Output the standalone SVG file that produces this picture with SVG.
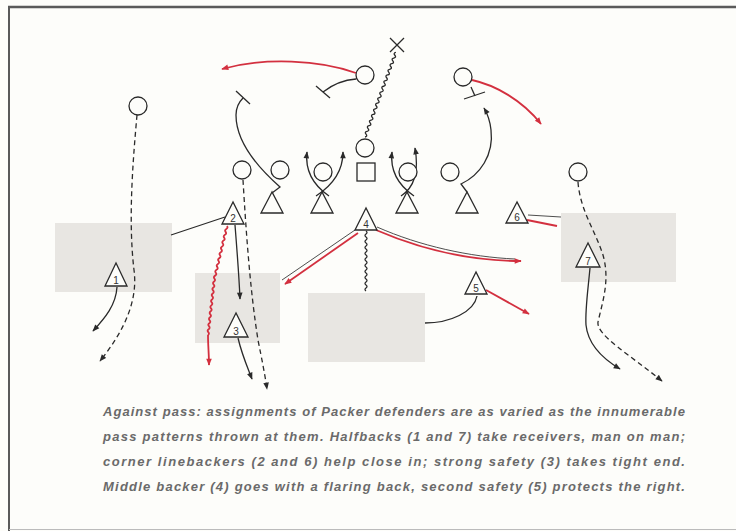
<svg xmlns="http://www.w3.org/2000/svg" width="736" height="531" viewBox="0 0 736 531">
<defs>
<marker id="ab" viewBox="0 0 10 10" refX="9" refY="5" markerWidth="8" markerHeight="7" markerUnits="userSpaceOnUse" orient="auto"><path d="M0,1 L10,5 L0,9 Z" fill="#2a2a2a"/></marker>
<marker id="ar" viewBox="0 0 10 10" refX="9" refY="5" markerWidth="8" markerHeight="7" markerUnits="userSpaceOnUse" orient="auto"><path d="M0,1 L10,5 L0,9 Z" fill="#d3303f"/></marker>
<style>
.ln{fill:none;stroke:#2a2a2a;stroke-width:1.3}
.ds{fill:none;stroke:#2a2a2a;stroke-width:1.3;stroke-dasharray:5 3.5}
.rd{fill:none;stroke:#d3303f;stroke-width:1.8}
.thin{fill:none;stroke:#3a3a3a;stroke-width:0.9}
.box{fill:#e8e6e2}
.nd{fill:#fdfdfa;stroke:#2a2a2a;stroke-width:1.3}
.num{font-family:"Liberation Sans",Arial,sans-serif;font-size:10px;fill:#333;text-anchor:middle}
.cap{font-family:"Liberation Sans",Arial,sans-serif;font-size:13px;font-style:italic;font-weight:bold;fill:#6a6a6a}
</style>
</defs>
<rect x="0" y="0" width="736" height="531" fill="#fdfdfa"/>
<g id="frame" fill="none" stroke="#5a5a5a">
<line x1="8" y1="7" x2="736" y2="7" stroke-width="2.4"/>
<line x1="9" y1="7" x2="9" y2="531" stroke-width="2"/>
<line x1="9" y1="529.5" x2="736" y2="529.5" stroke-width="1.2" stroke="#bbb"/>
</g>
<g id="zones">
<rect class="box" x="55" y="223" width="117" height="69"/>
<rect class="box" x="195" y="273" width="85" height="70"/>
<rect class="box" x="308" y="293" width="117" height="69"/>
<rect class="box" x="561" y="213" width="115" height="69"/>
</g>
<g id="connectors">
<path class="ln" d="M117,287 C116,305 105,318 93,331" marker-end="url(#ab)"/>
<path class="ds" d="M137,115 C133,160 128,220 134,270 C138,300 125,330 100,361" marker-end="url(#ab)"/>
<path class="ln" d="M171,235 L225,217"/>
<path class="ln" d="M235,225 C237,250 239,275 240,299" marker-end="url(#ab)"/>
<path class="rd" d="M227,226 q1.3,1.7 -0.7,2.92 t-0.7,2.92 t-0.7,2.92 t-0.7,2.92 t-0.7,2.92 t-0.7,2.92 t-0.7,2.92 t-0.7,2.92 t-0.7,2.92 t-0.7,2.92 t-0.7,2.92 t-0.7,2.92 t-0.7,2.92 t-0.7,2.92 t-0.7,2.92 t-0.7,2.92 t-0.7,2.92 t-0.7,2.92 q1.5,1.6 -0.34,2.98 t-0.34,2.98 t-0.34,2.98 t-0.34,2.98 t-0.34,2.98 t-0.34,2.98 t-0.34,2.98 t-0.34,2.98 t-0.34,2.98 t-0.34,2.98 t-0.34,2.98 t-0.34,2.98 t-0.34,2.98 t-0.34,2.98 t-0.34,2.98 t-0.34,2.98 t-0.34,2.98 t-0.34,2.98 t-0.34,2.98"/>
<path class="rd" d="M208,335 C208,345 209,355 209,365" marker-end="url(#ar)"/>
<path class="ds" d="M243,180 C246,230 250,290 258,340 C262,360 265,375 267,389" marker-end="url(#ab)"/>
<path class="ln" d="M238,338 C242,355 247,366 252,379" marker-end="url(#ab)"/>
<path class="thin" d="M355,230 L282,280"/>
<path class="rd" d="M358,233 L285,284" marker-end="url(#ar)"/>
<path class="thin" d="M377,227 C420,246 470,257 515,259"/>
<path class="rd" d="M376,230 C420,249 470,261 521,261" marker-end="url(#ar)"/>
<path class="ln" d="M366,231 q2,1.5 0,3 t0,3 t0,3 t0,3 t0,3 t0,3 t0,3 t0,3 t0,3 t0,3 t0,3 t0,3 t0,3 t0,3 t0,3 t0,3 t0,3 t0,3 t0,3 t0,3"/>
<path class="ln" d="M425,323 C450,323 474,312 477,296"/>
<path class="rd" d="M486,290 L529,314" marker-end="url(#ar)"/>
<path class="thin" d="M528,215 L561,217"/>
<path class="rd" d="M527,220 L557,226"/>
<path class="ds" d="M578,182 C580,210 595,230 603,255 C610,280 603,300 598,322 C596,335 630,355 662,381" marker-end="url(#ab)"/>
<path class="ln" d="M590,268 C588,290 585,310 586,325 C588,345 605,360 620,369" marker-end="url(#ab)"/>
<path class="rd" d="M356,73 C320,60 265,57 222,69" marker-end="url(#ar)"/>
<path class="ln" d="M356,79 C342,80 332,85 323,92"/>
<path class="ln" d="M316,86 L330,98"/>
<path class="ln" d="M272,193 L280,187 C255,165 236,140 236,115 C236,108 239,102 243,98"/>
<path class="ln" d="M236,91 L250,104"/>
<path class="ln" d="M467,192 L461,184 C480,175 494,155 491,130 C490,120 487,113 484,108" marker-end="url(#ab)"/>
<path class="ln" d="M471,87 L475,96"/>
<path class="ln" d="M464,99 L485,92"/>
<path class="rd" d="M472,80 C495,85 522,100 541,124" marker-end="url(#ar)"/>
<path class="ln" d="M365,137 q2.86,-0.55 1.03,-2.82 t1.03,-2.82 t1.03,-2.82 t1.03,-2.82 t1.03,-2.82 t1.03,-2.82 t1.03,-2.82 t1.03,-2.82 t1.03,-2.82 t1.03,-2.82 t1.03,-2.82 t1.03,-2.82 t1.03,-2.82 t1.03,-2.82 t1.03,-2.82 t1.03,-2.82 t1.03,-2.82 t1.03,-2.82 t1.03,-2.82 t1.03,-2.82 t1.03,-2.82 t1.03,-2.82 t1.03,-2.82 t1.03,-2.82 t1.03,-2.82 t1.03,-2.82 t1.03,-2.82 t1.03,-2.82 t1.03,-2.82 t1.03,-2.82"/>
<path class="ln" d="M329,196 C313,185 305,170 307,152" marker-end="url(#ab)"/>
<path class="ln" d="M316,196 C333,185 343,170 343,152" marker-end="url(#ab)"/>
<path class="ln" d="M414,196 C398,185 390,170 392,152" marker-end="url(#ab)"/>
<path class="ln" d="M401,196 C418,185 418,165 415,148" marker-end="url(#ab)"/>
</g>
<g id="ball-x"><path class="ln" d="M390,38 L404,52 M404,38 L390,52"/></g>
<g id="receiver-left"><circle class="nd" cx="138" cy="106" r="9"/></g>
<g id="back-left"><circle class="nd" cx="365" cy="75" r="9"/></g>
<g id="back-right"><circle class="nd" cx="463" cy="77" r="9"/></g>
<g id="end-left"><circle class="nd" cx="242" cy="170" r="9"/></g>
<g id="tackle-left"><circle class="nd" cx="280" cy="170" r="9"/></g>
<g id="guard-left"><circle class="nd" cx="323" cy="172" r="9"/></g>
<g id="quarterback"><circle class="nd" cx="365" cy="148" r="9"/></g>
<g id="center"><rect class="nd" x="357" y="163" width="18" height="18"/></g>
<g id="guard-right"><circle class="nd" cx="408" cy="172" r="9"/></g>
<g id="tackle-right"><circle class="nd" cx="450" cy="172" r="9"/></g>
<g id="end-right"><circle class="nd" cx="578" cy="172" r="9"/></g>
<g id="lineman-a"><path class="nd" d="M272,192 L261,213 L283,213 Z"/></g>
<g id="lineman-b"><path class="nd" d="M322,192 L311,213 L333,213 Z"/></g>
<g id="lineman-c"><path class="nd" d="M407,192 L396,213 L418,213 Z"/></g>
<g id="lineman-d"><path class="nd" d="M467,192 L456,213 L478,213 Z"/></g>
<g id="def-1"><path class="nd" d="M116,263 L105,286 L127,286 Z"/><text class="num" x="116" y="284">1</text></g>
<g id="def-2"><path class="nd" d="M233,202 L222,224 L244,224 Z"/><text class="num" x="233" y="222">2</text></g>
<g id="def-3"><path class="nd" d="M236,313 L224,337 L248,337 Z"/><text class="num" x="236" y="335">3</text></g>
<g id="def-4"><path class="nd" d="M366,208 L355,230 L377,230 Z"/><text class="num" x="366" y="228">4</text></g>
<g id="def-5"><path class="nd" d="M476,272 L465,294 L487,294 Z"/><text class="num" x="476" y="292">5</text></g>
<g id="def-6"><path class="nd" d="M517,202 L506,223 L528,223 Z"/><text class="num" x="517" y="221">6</text></g>
<g id="def-7"><path class="nd" d="M588,243 L576,267 L600,267 Z"/><text class="num" x="588" y="265">7</text></g>
<g id="caption">
<text class="cap" x="103" y="416" textLength="582" lengthAdjust="spacing">Against pass: assignments of Packer defenders are as varied as the innumerable</text>
<text class="cap" x="103" y="441" textLength="582" lengthAdjust="spacing">pass patterns thrown at them. Halfbacks (1 and 7) take receivers, man on man;</text>
<text class="cap" x="103" y="466" textLength="582" lengthAdjust="spacing">corner linebackers (2 and 6) help close in; strong safety (3) takes tight end.</text>
<text class="cap" x="103" y="491" textLength="582" lengthAdjust="spacing">Middle backer (4) goes with a flaring back, second safety (5) protects the right.</text>
</g>
</svg>
